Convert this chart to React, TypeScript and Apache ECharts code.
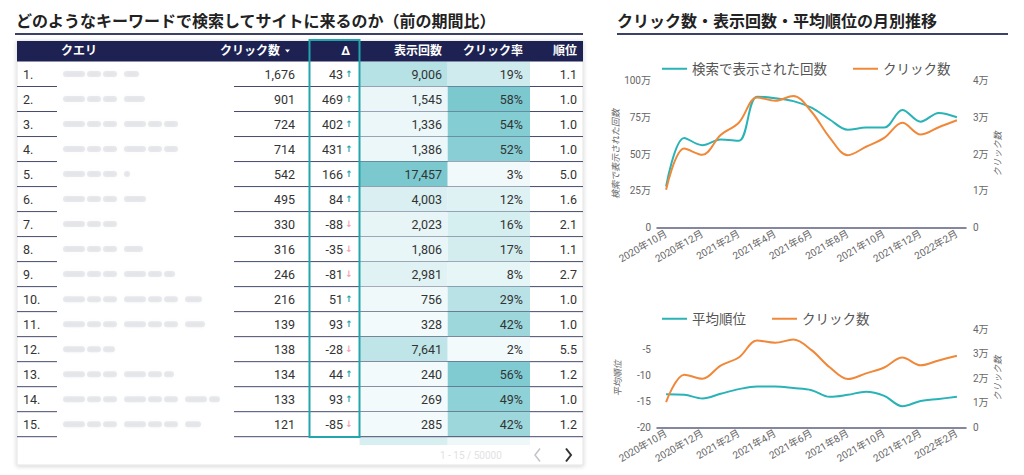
import React, { useEffect, useRef } from "react";
import * as echarts from "echarts";

// ---------- Table data ----------
const rankLabels = ["1.", "2.", "3.", "4.", "5.", "6.", "7.", "8.", "9.", "10.", "11.", "12.", "13.", "14.", "15."];
const clicks = [1676, 901, 724, 714, 542, 495, 330, 316, 246, 216, 139, 138, 134, 133, 121];
const clickDelta = [43, 469, 402, 431, 166, 84, -88, -35, -81, 51, 93, -28, 44, 93, -85];
const impressions = [9006, 1545, 1336, 1386, 17457, 4003, 2023, 1806, 2981, 756, 328, 7641, 240, 269, 285];
const ctrPercent = [19, 58, 54, 52, 3, 12, 16, 17, 8, 29, 42, 2, 56, 49, 42];
const avgPosition = [1.1, 1.0, 1.0, 1.0, 5.0, 1.6, 2.1, 1.1, 2.7, 1.0, 1.0, 5.5, 1.2, 1.0, 1.2];
const headerLabels = ["クエリ", "クリック数", "Δ", "表示回数", "クリック率", "順位"];

// ---------- Monthly data ----------
const months = [
  "2020年10月", "2020年11月", "2020年12月", "2021年1月", "2021年2月", "2021年3月",
  "2021年4月", "2021年5月", "2021年6月", "2021年7月", "2021年8月", "2021年9月",
  "2021年10月", "2021年11月", "2021年12月", "2022年1月", "2022年2月",
];
const monthlyImpressions = [280000, 610000, 560000, 600000, 590000, 890000, 880000, 860000, 815000, 735000, 665000, 680000, 680000, 800000, 720000, 780000, 750000];
const monthlyClicks = [10300, 21500, 19800, 25200, 28500, 35400, 34500, 35800, 31500, 24500, 19700, 22000, 24400, 28500, 25300, 27300, 29200];
const monthlyAvgPosition = [-13.6, -13.7, -14.4, -13.5, -12.6, -12.1, -12.1, -12.4, -12.8, -14.1, -13.7, -13.1, -13.9, -15.9, -14.9, -14.5, -14.1];

// ---------- Layout (pixels) ----------
const FONT = 'Roboto, "Noto Sans CJK JP", "Noto Sans", sans-serif';
const TEAL = "#2ab3b6";
const ORANGE = "#f0883a";
const NAVY = "#1d2252";
const COL = {
  tableL: 17, tableR: 583, rank: 23, queryText: 61, noLineR: 57, lineL: 234,
  clicksR: 295, deltaBoxL: 309.5, deltaBoxR: 359.5, deltaR: 343, arrowX: 349,
  impL: 359.5, impR: 447.7, impText: 442, ctrL: 447.7, ctrR: 530, ctrText: 523, posText: 577,
};
const queryBlurWidths = [76, 82, 115, 115, 67, 87, 65, 80, 112, 139, 142, 52, 111, 157, 138];

const fmtMan = (v: number) => (v === 0 ? "0" : `${v / 10000}万`);

function heat(v: number, arr: number[]) {
  const lo = Math.min(...arr);
  const hi = Math.max(...arr);
  return echarts.color.lerp((v - lo) / (hi - lo), ["#f3fafb", "#7bc9cf"]) as string;
}

function txt(x: number, y: number, text: string, o: any = {}) {
  const align = o.align || "left";
  return {
    type: "text",
    x,
    y,
    z: o.z,
    style: {
      text,
      fill: o.fill || "#333",
      fontSize: o.fontSize || 12.5,
      fontWeight: o.fontWeight || "normal",
      fontFamily: o.fontFamily || FONT,
      align,
      textAlign: align,
      verticalAlign: "middle",
      textVerticalAlign: "middle",
    },
  };
}

function buildOption(): any {
  const headerY = 51;
  const headerX = [COL.queryText, 280, 350, COL.impText, COL.ctrText, COL.posText];
  const headerAlign = ["left", "right", "right", "right", "right", "right"];

  const graphics: any[] = [
    txt(16, 21, "どのようなキーワードで検索してサイトに来るのか（前の期間比）", { fontSize: 16, fontWeight: "bold", fill: "#222" }),
    { type: "line", shape: { x1: 15, y1: 34, x2: 583, y2: 34 }, style: { stroke: "#3c4167", lineWidth: 2 } },
    txt(617, 21, "クリック数・表示回数・平均順位の月別推移", { fontSize: 16, fontWeight: "bold", fill: "#222" }),
    { type: "line", shape: { x1: 617, y1: 34, x2: 1008, y2: 34 }, style: { stroke: "#3c4167", lineWidth: 2 } },
    {
      type: "rect", z: -10,
      shape: { x: COL.tableL, y: 41, width: COL.tableR - COL.tableL, height: 424 },
      style: { fill: "#fff", stroke: "#e4e4e6", lineWidth: 1, shadowBlur: 4, shadowColor: "rgba(0,0,0,0.18)", shadowOffsetY: 1 },
    },
    { type: "rect", z: -5, shape: { x: COL.impL, y: 437, width: COL.impR - COL.impL, height: 8 }, style: { fill: "#d8eff1" } },
    { type: "rect", z: -5, shape: { x: COL.ctrL, y: 437, width: COL.ctrR - COL.ctrL, height: 8 }, style: { fill: "#eff8f9" } },
    { type: "rect", z: 5, shape: { x: COL.tableL, y: 41, width: COL.tableR - COL.tableL, height: 20.5 }, style: { fill: NAVY } },
    ...headerLabels.map((h, k) =>
      txt(headerX[k], headerY, h, { align: headerAlign[k], fill: "#fff", fontWeight: "bold", fontSize: 12, z: 6 })
    ),
    { type: "polygon", z: 6, shape: { points: [[285, 49.5], [290, 49.5], [287.5, 52.5]] }, style: { fill: "#fff" } },
    {
      type: "rect", z: 20,
      shape: { x: COL.deltaBoxL, y: 40, width: COL.deltaBoxR - COL.deltaBoxL, height: 397 },
      style: { fill: "none", stroke: "#22a6ab", lineWidth: 2 },
    },
    txt(440, 455, "1 - 15 / 50000", { fill: "#e2e2e4", fontSize: 10 }),
    { type: "polyline", shape: { points: [[540, 448.5], [535, 455], [540, 461.5]] }, style: { stroke: "#c4c4c8", lineWidth: 1.5, fill: "none" } },
    { type: "polyline", shape: { points: [[566, 448.5], [571, 455], [566, 461.5]] }, style: { stroke: "#333", lineWidth: 2, fill: "none" } },
  ];

  const axisNameStyle = { color: "#666", fontSize: 9, fontStyle: "italic", fontFamily: FONT };
  const axisLabelStyle = { color: "#666", fontSize: 10, fontFamily: FONT };

  const tableSeries = {
    type: "custom",
    coordinateSystem: "cartesian2d",
    xAxisIndex: 0,
    yAxisIndex: 0,
    encode: { x: 1, y: 0 },
    z: 3,
    data: rankLabels.map((_, i) => [i, clicks[i], clickDelta[i], impressions[i], ctrPercent[i], avgPosition[i]]),
    renderItem: (params: any, api: any) => {
      const i = api.value(0) as number;
      const cv = api.value(1) as number;
      const dv = api.value(2) as number;
      const iv = api.value(3) as number;
      const rv = api.value(4) as number;
      const pv = api.value(5) as number;
      const X = (v: number) => api.coord([v, i])[0];
      const yc = api.coord([COL.tableL, i])[1];
      const h = api.size([0, 1])[1];
      const top = yc - h / 2;
      const bottom = yc + h / 2;
      const children: any[] = [];
      children.push({ type: "rect", shape: { x: X(COL.impL), y: top, width: X(COL.impR) - X(COL.impL), height: h }, style: { fill: heat(iv, impressions) } });
      children.push({ type: "rect", shape: { x: X(COL.ctrL), y: top, width: X(COL.ctrR) - X(COL.ctrL), height: h }, style: { fill: heat(rv, ctrPercent) } });
      children.push({ type: "line", shape: { x1: X(COL.tableL), y1: bottom, x2: X(COL.noLineR), y2: bottom }, style: { stroke: "#464b6d", lineWidth: 1 } });
      children.push({ type: "line", shape: { x1: X(COL.lineL), y1: bottom, x2: X(COL.tableR), y2: bottom }, style: { stroke: "#464b6d", lineWidth: 1 } });
      // blurred (unreadable) query text
      const w = queryBlurWidths[i];
      const x0 = X(COL.queryText) + 2;
      let x = x0;
      let k = 0;
      while (x < x0 + w - 4) {
        const segW = Math.min(k % 3 === 0 ? 22 : 14, x0 + w - x);
        children.push({
          type: "rect",
          shape: { x, y: yc - 3, width: segW, height: 6, r: 3 },
          style: { fill: "rgba(160,162,176,0.22)", shadowBlur: 3, shadowColor: "rgba(160,162,176,0.35)" },
        });
        x += segW + (k % 3 === 2 ? 7 : 2);
        k++;
      }
      children.push(txt(X(COL.rank), yc, rankLabels[i]));
      children.push(txt(X(COL.clicksR), yc, cv.toLocaleString("en-US"), { align: "right" }));
      children.push(txt(X(COL.deltaR), yc, String(dv), { align: "right" }));
      children.push(txt(X(COL.arrowX), yc, dv >= 0 ? "↑" : "↓", { align: "center", fontSize: 9, fontWeight: "bold", fill: dv >= 0 ? "#1fa3a6" : "#f3a3b6", fontFamily: "DejaVu Sans" }));
      children.push(txt(X(COL.impText), yc, iv.toLocaleString("en-US"), { align: "right" }));
      children.push(txt(X(COL.ctrText), yc, `${rv}%`, { align: "right" }));
      children.push(txt(X(COL.posText), yc, pv.toFixed(1), { align: "right" }));
      return { type: "group", children };
    },
  };

  const xCat = (gridIndex: number) => ({
    type: "category",
    gridIndex,
    data: months,
    boundaryGap: true,
    axisLine: { lineStyle: { color: "#5c607e", width: 1.5 } },
    axisTick: { show: false },
    axisLabel: { ...axisLabelStyle, interval: 1, rotate: 30, margin: 5 },
  });

  const yVal = (gridIndex: number, o: any) => ({
    type: "value",
    gridIndex,
    axisLine: { show: false },
    axisTick: { show: false },
    splitLine: { show: false },
    nameLocation: "middle",
    nameTextStyle: axisNameStyle,
    ...o,
    axisLabel: { ...axisLabelStyle, ...(o.axisLabel || {}) },
  });

  const lineS = (name: string, data: number[], color: string, xi: number, yi: number) => ({
    type: "line",
    name,
    data,
    xAxisIndex: xi,
    yAxisIndex: yi,
    smooth: 0.35,
    showSymbol: false,
    symbol: "none",
    lineStyle: { color, width: 2 },
    itemStyle: { color },
  });

  const legendBase = {
    left: 657,
    icon: "rect",
    itemWidth: 25,
    itemHeight: 2,
    itemGap: 26,
    textStyle: { fontSize: 13.5, color: "#555", fontFamily: FONT },
  };

  return {
    animation: false,
    backgroundColor: "#fff",
    legend: [
      { ...legendBase, top: 57, data: ["検索で表示された回数", "クリック数"] },
      { ...legendBase, top: 307, data: ["平均順位", "クリック数"] },
    ],
    grid: [
      { left: COL.tableL, top: 61.5, width: COL.tableR - COL.tableL, height: 375.2 },
      { left: 657, top: 80.5, width: 309, height: 147.2 },
      { left: 657, top: 329.3, width: 309, height: 98 },
    ],
    xAxis: [
      { type: "value", gridIndex: 0, min: COL.tableL, max: COL.tableR, show: false },
      xCat(1),
      xCat(2),
    ],
    yAxis: [
      { type: "category", gridIndex: 0, data: rankLabels, inverse: true, show: false },
      yVal(1, { min: 0, max: 1000000, interval: 250000, position: "left", name: "検索で表示された回数", nameGap: 35, axisLabel: { formatter: fmtMan, margin: 6 } }),
      yVal(1, { min: 0, max: 40000, interval: 10000, position: "right", name: "クリック数", nameGap: 27, axisLabel: { formatter: fmtMan, margin: 7 } }),
      yVal(2, { min: -20, max: -1, interval: 5, position: "left", name: "平均順位", nameGap: 35, axisLabel: { margin: 6, showMaxLabel: false } }),
      yVal(2, { min: 0, max: 40000, interval: 10000, position: "right", name: "クリック数", nameGap: 27, axisLabel: { formatter: fmtMan, margin: 7 } }),
    ],
    graphic: graphics,
    series: [
      tableSeries,
      lineS("検索で表示された回数", monthlyImpressions, TEAL, 1, 1),
      lineS("クリック数", monthlyClicks, ORANGE, 1, 2),
      lineS("平均順位", monthlyAvgPosition, TEAL, 2, 3),
      lineS("クリック数", monthlyClicks, ORANGE, 2, 4),
    ],
  };
}

export default function App() {
  const ref = useRef<HTMLDivElement>(null);
  useEffect(() => {
    if (!ref.current) return;
    const chart = echarts.init(ref.current, null, { renderer: "svg" });
    chart.setOption(buildOption());
    return () => chart.dispose();
  }, []);
  return (
    <div
      ref={ref}
      style={{ position: "fixed", left: 0, top: 0, width: 1024, height: 475, background: "#fff" }}
    />
  );
}
